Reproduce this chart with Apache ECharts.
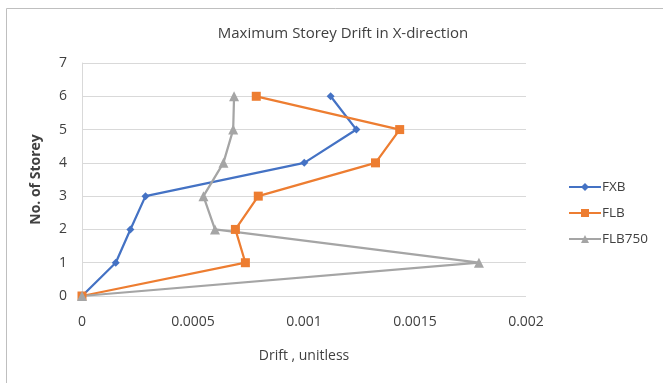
<!DOCTYPE html>
<html>
<head>
<meta charset="utf-8">
<style>
  html, body { margin: 0; padding: 0; background: #fff; }
  #chart { width: 663px; height: 383px; }
</style>
<script src="https://cdn.jsdelivr.net/npm/echarts@6/dist/echarts.min.js"></script>
</head>
<body>
<div id="chart"></div>
<script>
// Storey numbers (y) and maximum drift per storey (x) for each model
const storeys = [0, 1, 2, 3, 4, 5, 6];
const fxbDrift = [0, 0.000152, 0.000218, 0.000286, 0.001001, 0.001236, 0.001120];
const flbDrift = [0, 0.000736, 0.000691, 0.000794, 0.001322, 0.001431, 0.000785];
const flb750Drift = [0, 0.001788, 0.000599, 0.000547, 0.000637, 0.000681, 0.000685];
const xTicks = [0, 0.0005, 0.001, 0.0015, 0.002];

const pairs = (xs) => xs.map((x, i) => [x, storeys[i]]);
const font = "'Open Sans', 'Liberation Sans', sans-serif";
const textColor = '#404040';

const chart = echarts.init(document.getElementById('chart'), null, { renderer: 'canvas' });

function series(name, data, color, symbol, size) {
  return {
    name: name,
    type: 'line',
    data: pairs(data),
    symbol: symbol,
    symbolSize: size,
    showAllSymbol: true,
    lineStyle: { color: color, width: 2.25 },
    itemStyle: { color: color },
    emphasis: { disabled: true },
    animation: false
  };
}

chart.setOption({
  backgroundColor: '#fff',
  animation: false,
  title: {
    text: 'Maximum Storey Drift in X-direction',
    left: 338,
    textAlign: 'center',
    top: 21,
    textStyle: { fontFamily: font, fontSize: 15, fontWeight: 'normal', color: textColor }
  },
  legend: {
    orient: 'vertical',
    left: 563,
    top: 175,
    itemGap: 12,
    itemWidth: 32,
    itemHeight: 10,
    data: ['FXB', 'FLB', 'FLB750'],
    textStyle: { fontFamily: font, fontSize: 13.5, color: textColor, padding: [0, 0, 0, -4] }
  },
  grid: { left: 82, right: 137, top: 63, bottom: 87, containLabel: false },
  xAxis: {
    type: 'value',
    min: xTicks[0],
    max: xTicks[xTicks.length - 1],
    interval: xTicks[1] - xTicks[0],
    name: 'Drift , unitless',
    nameLocation: 'middle',
    nameGap: 53,
    nameTextStyle: { fontFamily: font, fontSize: 14, color: textColor },
    axisLine: { show: false },
    axisTick: { show: false },
    splitLine: { show: false },
    axisLabel: {
      margin: 19,
      fontFamily: font, fontSize: 14, color: textColor,
      formatter: (v) => String(parseFloat(v.toFixed(4)))
    }
  },
  yAxis: {
    type: 'value',
    min: 0,
    max: 7,
    interval: 1,
    name: 'No. of Storey',
    nameLocation: 'middle',
    nameGap: 39,
    nameTextStyle: { fontFamily: font, fontSize: 14, fontWeight: 'bold', color: textColor },
    axisLine: { show: true, lineStyle: { color: '#d9d9d9', width: 1 } },
    axisTick: { show: false },
    splitLine: { show: true, lineStyle: { color: '#d9d9d9', width: 1 } },
    axisLabel: { margin: 15, fontFamily: font, fontSize: 14, color: textColor }
  },
  series: [
    series('FXB', fxbDrift, '#4472c4', 'diamond', 8),
    series('FLB', flbDrift, '#ed7d31', 'rect', 9),
    series('FLB750', flb750Drift, '#a5a5a5', 'triangle', 10)
  ],
  graphic: [{
    type: 'rect',
    shape: { x: 6.5, y: 8.5, width: 700, height: 400 },
    style: { fill: null, stroke: '#bfbfbf', lineWidth: 1 },
    silent: true,
    z: -1
  }]
});
</script>
</body>
</html>
